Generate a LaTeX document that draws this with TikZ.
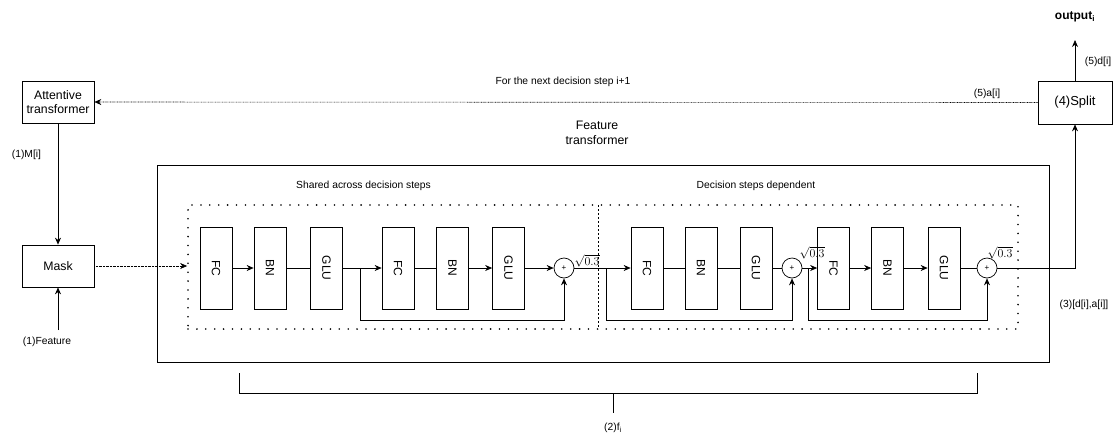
\documentclass[tikz,border=0pt]{standalone}
\usepackage{fontspec}
\setmainfont{Liberation Sans}
\usetikzlibrary{arrows.meta,calc}
\begin{document}
\begin{tikzpicture}[x=1pt,y=-1pt,
 box/.style={draw, line width=0.7pt, minimum width=72pt, minimum height=42pt, align=center, font=\fontsize{12.3}{14}\selectfont, inner sep=1pt},
 blk/.style={draw, line width=0.7pt, minimum width=32pt, minimum height=82pt, inner sep=0pt, font=\fontsize{12}{13}\selectfont},
 sumc/.style={draw, circle, line width=0.7pt, minimum size=20pt, inner sep=0pt, font=\fontsize{8}{9}\selectfont},
 lbl/.style={font=\fontsize{10.3}{12}\selectfont, inner sep=1pt},
 arr/.style={-{Stealth[length=7pt,width=6pt]}, line width=0.7pt},
 ln/.style={line width=0.7pt},
 bigdots/.style={line width=1.8pt, dash pattern=on 0pt off 8.9pt, line cap=round},
 finedots/.style={line width=0.6pt, dash pattern=on 0.7pt off 0.7pt},
 sq/.style={font=\fontsize{12}{13}\selectfont, inner sep=0pt}
]
\useasboundingbox (0,0) rectangle (1119,434);

% outer boxes
\node[draw, line width=0.7pt, minimum width=892pt, minimum height=197pt, inner sep=0pt] (outer) at (603,263.5) {};
\node[draw, bigdots, minimum width=830pt, minimum height=124pt, inner sep=0pt] (dbox) at (603,267) {};
\coordinate (dvt) at (598,205);
\coordinate (dvb) at (598,329);
\draw[line width=0.6pt, dash pattern=on 2pt off 2pt] (dvt) -- (dvb);

% main boxes
\node[box] (att) at (58,102) {Attentive\\transformer};
\node[box] (mask) at (58,266) {Mask};
\node[box, minimum width=74pt, minimum height=43pt, font=\fontsize{13}{15}\selectfont] (split) at (1075,102.5) {(4)Split};

% blocks
\node[blk] (fc1) at (216,268) {\rotatebox{-90}{FC}};
\node[blk] (bn1) at (270,268) {\rotatebox{-90}{BN}};
\node[blk] (glu1) at (326.5,268) {\rotatebox{-90}{GLU}};
\node[blk] (fc2) at (398,268) {\rotatebox{-90}{FC}};
\node[blk] (bn2) at (452.5,268) {\rotatebox{-90}{BN}};
\node[blk] (glu2) at (508.5,268) {\rotatebox{-90}{GLU}};
\node[sumc] (s1) at (564,268) {+};
\node[blk] (fc3) at (647,268) {\rotatebox{-90}{FC}};
\node[blk] (bn3) at (701,268) {\rotatebox{-90}{BN}};
\node[blk] (glu3) at (756,268) {\rotatebox{-90}{GLU}};
\node[sumc] (s2) at (792,268) {+};
\node[blk] (fc4) at (833.5,268) {\rotatebox{-90}{FC}};
\node[blk] (bn4) at (887.5,268) {\rotatebox{-90}{BN}};
\node[blk] (glu4) at (944,268) {\rotatebox{-90}{GLU}};
\node[sumc] (s3) at (987,268) {+};

% sqrt labels
\node[sq] (q1) at (587,261) {$\sqrt{0.3}$};
\node[sq] (q2) at (812,253) {$\sqrt{0.3}$};
\node[sq] (q3) at (1000,253) {$\sqrt{0.3}$};

% chain connectors
\draw[arr] (fc1) -- (bn1);
\draw[ln] (bn1) -- (glu1);
\draw[arr] (glu1) -- (fc2);
\draw[ln] (fc2) -- (bn2);
\draw[arr] (bn2) -- (glu2);
\draw[arr] (glu2) -- (s1);
\draw[arr] (s1) -- (fc3);
\draw[ln] (fc3) -- (bn3);
\draw[ln] (bn3) -- (glu3);
\draw[ln] (glu3) -- (s2);
\draw[arr] (s2) -- (fc4);
\draw[arr] (fc4) -- (bn4);
\draw[arr] (bn4) -- (glu4);
\draw[ln] (glu4) -- (s3);

% skip connections
\coordinate (k1) at (360,268);
\coordinate (k2) at (606,268);
\coordinate (k3) at (808,268);
\draw[arr] (k1) -- (360,320) -| (s1.south);
\draw[arr] (k2) -- (606,320) -| (s2.south);
\draw[arr] (k3) -- (808,320) -| (s3.south);

% outer connectors
\draw[arr] (s3) -| (split.south);
\coordinate (outtip) at (1075,40);
\draw[arr] (split.north) -- (outtip);
\draw[finedots, -{Stealth[length=7pt,width=6pt]}] (split.west) -- (att.east);
\draw[arr] (att.south) -- (mask.north);
\coordinate (feat) at (58,330);
\draw[arr] (feat) -- (mask.south);
\draw[finedots, -{Stealth[length=7pt,width=6pt]}] (mask.east) -- (dbox.west |- mask.east);

% bracket
\coordinate (b1) at (239,373);
\coordinate (b2) at (977,373);
\coordinate (bm) at (613,393);
\draw[ln] (b1) -- ($(b1)+(0,20)$) -- ($(b2)+(0,20)$) -- (b2);
\draw[ln] (bm) -- ($(bm)+(0,20)$);

% labels
\node[lbl] (lm) at (26.5,155) {(1)M[i]};
\node[lbl] (lf) at (47,342) {(1)Feature};
\node[lbl] (lnext) at (563,82) {For the next decision step i+1};
\node[align=center, font=\fontsize{12.3}{15}\selectfont, inner sep=0pt] (lft) at (597,133) {Feature\\transformer};
\node[lbl] (lsh) at (363.5,186) {Shared across decision steps};
\node[lbl] (ldep) at (756,186) {Decision steps dependent};
\node[lbl] (la) at (987,94) {(5)a[i]};
\node[lbl] (ld) at (1098,62) {(5)d[i]};
\node[font=\fontsize{12}{14}\selectfont\bfseries, inner sep=1pt] (lout) at (1075,17) {output\textsubscript{i}};
\node[lbl] (l3) at (1084,305) {(3)[d[i],a[i]]};
\node[lbl] (l2) at (613,428) {(2)f\textsubscript{i}};
\end{tikzpicture}
\end{document}
